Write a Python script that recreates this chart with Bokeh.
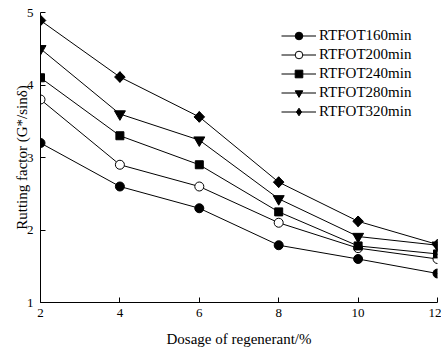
import math
from bokeh.plotting import figure
from bokeh.models import Range1d, Legend, LegendItem, FixedTicker
from bokeh.embed import file_html
from bokeh.resources import INLINE

dosage = [2, 4, 6, 8, 10, 12]
rtfot160 = [3.2, 2.6, 2.3, 1.79, 1.6, 1.4]
rtfot200 = [3.8, 2.9, 2.6, 2.1, 1.75, 1.6]
rtfot240 = [4.1, 3.3, 2.9, 2.25, 1.78, 1.67]
rtfot280 = [4.5, 3.6, 3.24, 2.43, 1.91, 1.79]
rtfot320 = [4.89, 4.11, 3.56, 2.66, 2.12, 1.8]
series_names = ["RTFOT160min", "RTFOT200min", "RTFOT240min", "RTFOT280min", "RTFOT320min"]
x_ticks = [2, 4, 6, 8, 10, 12]
y_ticks = [1, 2, 3, 4, 5]

FONT = "Liberation Serif"

p = figure(width=441, height=349, output_backend="svg", toolbar_location=None,
           x_range=Range1d(2, 12), y_range=Range1d(1, 5),
           min_border_left=40, min_border_right=4, min_border_top=12, min_border_bottom=47)
p.outline_line_color = None
p.grid.visible = False
p.background_fill_color = "white"

# (marker, size, fill, angle, legend marker, legend size)
markers = [("circle", 9, "black", 0, "circle", 9),
           ("circle", 9, "white", 0, "circle", 9),
           ("square", 8, "black", 0, "square", 8),
           ("inverted_triangle", 11, "black", 0, "inverted_triangle", 11),
           ("square", 7.5, "black", math.pi / 4, "diamond", 10.5)]
datas = [rtfot160, rtfot200, rtfot240, rtfot280, rtfot320]
items = []
for name, ys, (mk, sz, fc, ang, lmk, lsz) in zip(series_names, datas, markers):
    l = p.line(dosage, ys, line_color="black", line_width=1)
    if ang != 0:
        # diamond drawn beneath the rotated square: it gives the legend its glyph
        s_leg = p.scatter(dosage, ys, marker=lmk, size=lsz, fill_color=fc,
                          line_color="black", line_width=1)
        p.scatter(dosage, ys, marker=mk, size=sz, angle=ang, fill_color=fc,
                  line_color="black", line_width=1)
        items.append(LegendItem(label=name, renderers=[l, s_leg]))
    else:
        s = p.scatter(dosage, ys, marker=mk, size=sz, fill_color=fc,
                      line_color="black", line_width=1)
        items.append(LegendItem(label=name, renderers=[l, s]))

legend = Legend(items=items, location=(241, 181), border_line_color=None,
                background_fill_alpha=0, padding=0, spacing=-1, margin=0,
                glyph_width=35, glyph_height=19, label_height=19, label_standoff=3,
                label_text_font=FONT, label_text_font_size="15px", label_text_color="black")
p.add_layout(legend, "center")

for ax in (p.xaxis[0], p.yaxis[0]):
    ax.major_tick_in = 5
    ax.major_tick_out = 0
    ax.minor_tick_line_color = None
    ax.axis_line_color = "black"
    ax.major_tick_line_color = "black"
    ax.major_label_text_font = FONT
    ax.major_label_text_font_size = "13px"
    ax.major_label_text_color = "black"
    ax.axis_label_text_font = FONT
    ax.axis_label_text_font_size = "15px"
    ax.axis_label_text_font_style = "normal"
    ax.axis_label_text_color = "black"

p.xaxis.ticker = FixedTicker(ticks=x_ticks)
p.yaxis.ticker = FixedTicker(ticks=y_ticks)
p.xaxis.axis_label = "Dosage of regenerant/%"
p.yaxis.axis_label = "Rutting factor (G*/sinδ)"
p.xaxis.major_label_standoff = 6
p.yaxis.major_label_standoff = 7
p.xaxis.axis_label_standoff = 11
p.yaxis.axis_label_standoff = -6

open("out.html", "w").write(file_html(p, INLINE))
